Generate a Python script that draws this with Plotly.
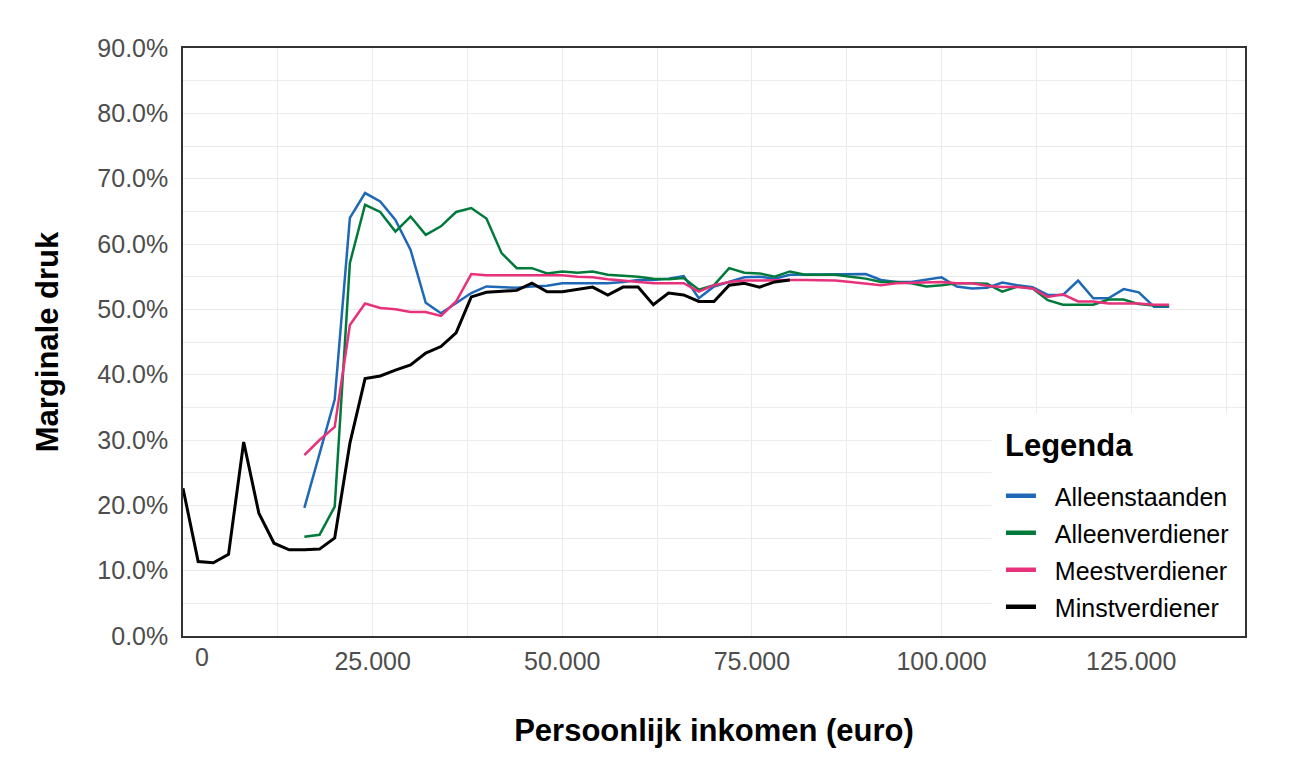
import plotly.graph_objects as go

# ---------------- data ----------------
income_black = [0, 2000, 4000, 6000, 8000, 10000, 12000, 14000, 16000, 18000,
                20000, 22000, 24000, 26000, 28000, 30000, 32000, 34000, 36000, 38000,
                40000, 42000, 44000, 46000, 48000, 50000, 52000, 54000, 56000, 58000,
                60000, 62000, 64000, 66000, 68000, 70000, 72000, 74000, 76000, 78000, 80000]

income = [16000, 18000, 20000, 22000, 24000, 26000, 28000, 30000, 32000, 34000,
          36000, 38000, 40000, 42000, 44000, 46000, 48000, 50000, 52000, 54000,
          56000, 58000, 60000, 62000, 64000, 66000, 68000, 70000, 72000, 74000,
          76000, 78000, 80000, 82000, 84000, 86000, 88000, 90000, 92000, 94000,
          96000, 98000, 100000, 102000, 104000, 106000, 108000, 110000, 112000, 114000,
          116000, 118000, 120000, 122000, 124000, 126000, 128000, 130000]

alleenstaanden = [19.6, 28.0, 36.2, 64.0, 67.8, 66.5, 63.7, 59.1, 51.0, 49.4,
                  51.0, 52.5, 53.5, 53.4, 53.3, 53.5, 53.6, 54.0, 54.0, 54.0,
                  54.0, 54.2, 54.5, 54.5, 54.7, 55.1, 51.7, 53.5, 54.2, 54.9,
                  55.0, 54.7, 55.3, 55.3, 55.3, 55.4, 55.3, 55.4, 54.5, 54.2,
                  54.2, 54.6, 54.9, 53.5, 53.2, 53.3, 54.1, 53.7, 53.4, 52.2,
                  52.2, 54.4, 51.7, 51.7, 53.1, 52.6, 50.4, 50.4]

alleenverdiener = [15.2, 15.5, 19.8, 57.1, 66.0, 64.9, 61.9, 64.2, 61.4, 62.7,
                   64.9, 65.5, 63.9, 58.6, 56.3, 56.3, 55.5, 55.8, 55.6, 55.8,
                   55.3, 55.2, 55.0, 54.7, 54.6, 54.8, 53.0, 53.7, 56.3, 55.6,
                   55.5, 55.0, 55.8, 55.3, 55.3, 55.3, 55.0, 54.7, 54.2, 54.2,
                   54.0, 53.5, 53.7, 54.0, 54.0, 53.9, 52.7, 53.5, 53.2, 51.4,
                   50.7, 50.7, 50.7, 51.5, 51.5, 50.8, 50.6, 50.6]

meestverdiener = [27.7, 30.0, 32.0, 47.6, 50.9, 50.2, 50.0, 49.6, 49.6, 49.0,
                  51.2, 55.4, 55.2, 55.2, 55.2, 55.2, 55.2, 55.2, 55.0, 54.9,
                  54.6, 54.4, 54.2, 54.0, 54.0, 54.0, 52.7, 53.7, 54.2, 54.4,
                  54.4, 54.5, 54.5, 54.5, 54.5, 54.4, 54.2, 54.0, 53.7, 54.0,
                  54.1, 54.1, 54.2, 54.0, 54.0, 53.6, 53.4, 53.4, 53.2, 51.9,
                  52.3, 51.2, 51.2, 50.9, 50.9, 50.9, 50.7, 50.7]

minstverdiener = [22.6, 11.4, 11.2, 12.5, 29.7, 18.8, 14.2, 13.2, 13.2, 13.3,
                  15.0, 29.5, 39.4, 39.8, 40.7, 41.5, 43.3, 44.3, 46.4, 51.9,
                  52.6, 52.8, 52.9, 54.0, 52.7, 52.7, 53.0, 53.4, 52.2, 53.4,
                  53.4, 50.7, 52.5, 52.2, 51.2, 51.2, 53.7, 54.0, 53.4, 54.2, 54.5]

x_tickvals = [0, 25000, 50000, 75000, 100000, 125000]
x_ticktext = ["", "25.000", "50.000", "75.000", "100.000", "125.000"]
x_minor = [12500, 37500, 62500, 87500, 112500, 137500]
y_tickvals = [0.0, 0.1, 0.2, 0.3, 0.4, 0.5, 0.6, 0.7, 0.8, 0.9]
y_minor = [0.05, 0.15, 0.25, 0.35, 0.45, 0.55, 0.65, 0.75, 0.85]

# ---------------- figure ----------------
FONT = "Liberation Sans, Arial, sans-serif"
NB = "\u00a0\u00a0"
series = [
    ("Alleenstaanden", income, alleenstaanden, "#1F68B8", 2.5),
    ("Alleenverdiener", income, alleenverdiener, "#007A3A", 2.5),
    ("Meestverdiener", income, meestverdiener, "#E8317B", 2.5),
    ("Minstverdiener", income_black, minstverdiener, "#000000", 3),
]

fig = go.Figure()
for name, xs, ys, col, w in series:
    fig.add_trace(go.Scatter(
        x=xs, y=[v / 100 for v in ys], mode="lines", name=name,
        line=dict(color=col, width=w), legendgroup=name, showlegend=False,
    ))
# legend entries with thicker key lines
for name, xs, ys, col, w in series:
    fig.add_trace(go.Scatter(
        x=[None], y=[None], mode="lines", name=NB + name,
        line=dict(color=col, width=4.5), legendgroup=name, showlegend=True,
    ))

grid = "#EBEBEB"
fig.update_layout(
    width=1299, height=783,
    margin=dict(l=183, r=54, t=48, b=147),
    paper_bgcolor="white", plot_bgcolor="white",
    font=dict(family=FONT, size=25, color="#4D4D4D"),
    showlegend=True,
    legend=dict(
        x=0.7702, xanchor="left", y=0.0102, yanchor="bottom",
        bgcolor="rgba(255,255,255,0)", borderwidth=0,
        font=dict(family=FONT, size=25, color="#000000"),
        tracegroupgap=1.5, itemwidth=30,
    ),
    shapes=[dict(
        type="rect", xref="x", yref="y", x0=106600, x1=140000, y0=0, y1=0.341,
        fillcolor="white", line=dict(width=0), layer="between",
    )],
    xaxis=dict(
        range=[0, 140000], tickmode="array", tickvals=x_tickvals, ticktext=x_ticktext,
        showgrid=True, gridcolor=grid, gridwidth=1.3,
        minor=dict(tickmode="array", tickvals=x_minor, showgrid=True, gridcolor=grid, gridwidth=1),
        zeroline=False, showline=True, linecolor="#333333", linewidth=1.5, mirror=True,
        ticks="", ticklabelstandoff=2,
        tickfont=dict(family=FONT, size=25, color="#4D4D4D"),
        title=dict(text="<b>Persoonlijk inkomen (euro)</b>",
                   font=dict(family=FONT, size=31, color="#000000"), standoff=46),
    ),
    yaxis=dict(
        range=[0, 0.9], tickmode="array", tickvals=y_tickvals, tickformat=".1%",
        showgrid=True, gridcolor=grid, gridwidth=1.3,
        minor=dict(tickmode="array", tickvals=y_minor, showgrid=True, gridcolor=grid, gridwidth=1),
        zeroline=False, showline=True, linecolor="#333333", linewidth=1.5, mirror=True,
        ticks="", ticklabelstandoff=8,
        tickfont=dict(family=FONT, size=25, color="#4D4D4D"),
        title=dict(text="<b>Marginale druk</b>",
                   font=dict(family=FONT, size=31, color="#000000"), standoff=30),
    ),
    annotations=[
        dict(text="0", x=2500, xref="x", y=0, yref="paper", yanchor="top", yshift=-5,
             showarrow=False, font=dict(family=FONT, size=25, color="#4D4D4D")),
        dict(text="<b>Legenda</b>", x=0.7721, xref="paper", xanchor="left",
             y=0.3248, yref="paper", yanchor="middle", showarrow=False,
             font=dict(family=FONT, size=31, color="#000000")),
    ],
)

fig.write_html("out.html")
